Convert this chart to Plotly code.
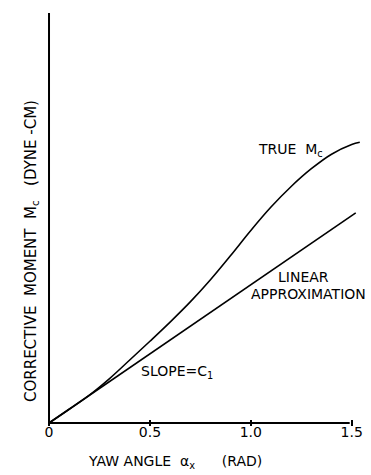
import plotly.graph_objects as go

# Yaw angle (rad) and the true corrective moment (arbitrary units)
alpha = [0.0, 0.1, 0.2, 0.3, 0.4, 0.5, 0.6, 0.7, 0.8, 0.9, 1.0,
         1.1, 1.2, 1.3, 1.4, 1.5, 1.54]
true_moment = [0.0, 0.068, 0.138, 0.220, 0.312, 0.405, 0.500, 0.600, 0.710,
               0.830, 0.954, 1.070, 1.172, 1.260, 1.332, 1.380, 1.391]

# Linear approximation, slope = C1
linear_alpha = [0.0, 1.52]
linear_moment = [0.0, 1.041]

tick_vals = [0.0, 0.5, 1.0, 1.5]
tick_text = ["0", "0.5", "1.0", "1.5"]

x_axis_end = 1.49
y_axis_top = 2.032

FONT = "DejaVu Sans"
INK = "black"

fig = go.Figure()

fig.add_trace(go.Scatter(
    x=alpha, y=true_moment, mode="lines",
    line=dict(color=INK, width=1.6, shape="spline", smoothing=1.0),
    hoverinfo="skip", showlegend=False,
))
fig.add_trace(go.Scatter(
    x=linear_alpha, y=linear_moment, mode="lines",
    line=dict(color=INK, width=1.6),
    hoverinfo="skip", showlegend=False,
))

# Axis lines
fig.add_shape(type="line", x0=0, x1=x_axis_end, y0=0, y1=0,
              line=dict(color=INK, width=2))
fig.add_shape(type="line", x0=0, x1=0, y0=0, y1=y_axis_top,
              line=dict(color=INK, width=2))

ann_font = dict(family=FONT, size=14, color=INK)
fig.add_annotation(x=1.026, y=1.353, text="TRUE  M<sub>c</sub>",
                   xanchor="left", yanchor="middle", showarrow=False, font=ann_font)
fig.add_annotation(x=1.259, y=0.7235, text="LINEAR",
                   xanchor="center", yanchor="middle", showarrow=False, font=ann_font)
fig.add_annotation(x=1.288, y=0.639, text="APPROXIMATION",
                   xanchor="center", yanchor="middle", showarrow=False, font=ann_font)
fig.add_annotation(x=0.446, y=0.253, text="SLOPE=C<sub>1</sub>",
                   xanchor="left", yanchor="middle", showarrow=False, font=ann_font)

# Axis titles
fig.add_annotation(
    xref="paper", yref="paper", x=0.123, y=-0.0865,
    text="YAW ANGLE&nbsp;&nbsp;α<sub>x</sub>&nbsp;&nbsp;&nbsp;&nbsp;&nbsp;&nbsp;(RAD)",
    xanchor="left", yanchor="middle", showarrow=False, font=ann_font,
)
fig.add_annotation(
    xref="paper", yref="paper", x=-0.0431, y=0.4207, textangle=-90,
    text="CORRECTIVE&nbsp;&nbsp;MOMENT&nbsp;&nbsp;M<sub>c</sub>&nbsp;&nbsp;&nbsp;(DYNE -CM)",
    xanchor="center", yanchor="middle", showarrow=False,
    font=dict(family=FONT, size=15, color=INK),
)

fig.update_layout(
    width=371, height=475,
    margin=dict(l=46, r=0, t=10, b=49),
    paper_bgcolor="white", plot_bgcolor="white",
    xaxis=dict(
        range=[-0.0149, 1.5956], showgrid=False, zeroline=False, showline=False,
        tickvals=tick_vals, ticktext=tick_text, ticks="inside", ticklen=6,
        tickwidth=1.5, tickcolor=INK, ticklabelstandoff=-4,
        tickfont=dict(family=FONT, size=14, color=INK),
    ),
    yaxis=dict(
        range=[-0.0149, 2.0466], showgrid=False, zeroline=False, showline=False,
        showticklabels=False, ticks="",
    ),
)

fig.write_html("out.html", config={"displayModeBar": False})
